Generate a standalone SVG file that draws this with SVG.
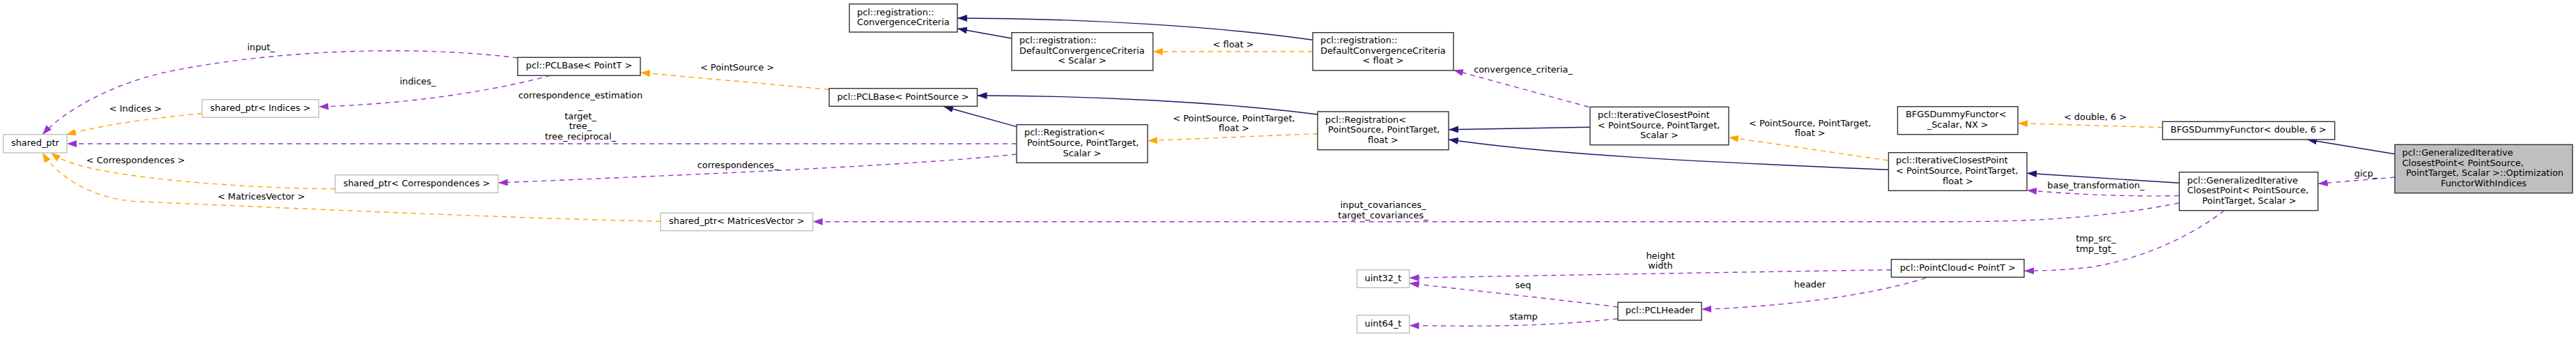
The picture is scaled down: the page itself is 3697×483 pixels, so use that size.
<svg xmlns="http://www.w3.org/2000/svg" width="3697" height="483" viewBox="0 0 3697 483">
<style>
text{font-family:"DejaVu Sans","Liberation Sans",sans-serif;font-size:12.9px;fill:#000}
.c{text-anchor:middle}
.n rect{fill:#fff;stroke:#333;stroke-width:1.4}
.g rect{fill:#fff;stroke:#bfbfbf;stroke-width:1.4}
.t rect{fill:#bfbfbf;stroke:#333;stroke-width:1.4}
.inh{fill:none;stroke:#191970;stroke-width:1.4;marker-end:url(#aN)}
.use{fill:none;stroke:#9a32cd;stroke-width:1.4;stroke-dasharray:7,6;marker-end:url(#aP)}
.tpl{fill:none;stroke:#ffa500;stroke-width:1.4;stroke-dasharray:7,6;marker-end:url(#aO)}
</style>
<defs>
<marker id="aN" markerUnits="userSpaceOnUse" viewBox="0 0 14 10" refX="14" refY="5" markerWidth="14" markerHeight="10" orient="auto"><path d="M0,0L14,5L0,10z" fill="#191970"/></marker>
<marker id="aP" markerUnits="userSpaceOnUse" viewBox="0 0 14 10" refX="14" refY="5" markerWidth="14" markerHeight="10" orient="auto"><path d="M0,0L14,5L0,10z" fill="#9a32cd"/></marker>
<marker id="aO" markerUnits="userSpaceOnUse" viewBox="0 0 14 10" refX="14" refY="5" markerWidth="14" markerHeight="10" orient="auto"><path d="M0,0L14,5L0,10z" fill="#ffa500"/></marker>
</defs>
<rect width="3697" height="483" fill="#fff"/>
<g id="connectors">
<path class="inh" d="M3437,220.7L3311,200"/>
<path class="use" d="M3437,254L3326.7,263.3"/><text class="c" x="3395.6" y="253">gicp_</text>
<path class="inh" d="M3127.6,262.3L2909,248.3"/>
<path class="use" d="M3127,280.5C3060,282 2980,279 2909,272.7"/><text class="c" x="3008" y="269.7">base_transformation_</text>
<path class="use" d="M3127,291C3040,308 2950,317.7 2800,317.7L1166.6,317.7"/><text class="c" x="1985" y="298">input_covariances_</text><text class="c" x="1985" y="313">target_covariances_</text>
<path class="use" d="M3192,301.7C3150,335 3080,370 3000,383C2960,387 2940,388 2905,388.3"/><text class="c" x="3008" y="345.7">tmp_src_</text><text class="c" x="3008" y="361.3">tmp_tgt_</text>
<path class="tpl" d="M3103.6,182.7L2896,176.7"/><text class="c" x="3007" y="172.3">&lt; double, 6 &gt;</text>
<path class="tpl" d="M2710,230L2481,196.7"/><text class="c" x="2597.7" y="180.7">&lt; PointSource, PointTarget,</text><text class="c" x="2597.7" y="195.3">float &gt;</text>
<path class="inh" d="M2710.4,243.3C2450,232 2250,224 2079,200"/>
<path class="inh" d="M2282,182.3L2079,185.7"/>
<path class="use" d="M2280,153.3L2086,100.5"/><text class="c" x="2186" y="103.7">convergence_criteria_</text>
<path class="tpl" d="M1891,191.7C1850,193 1720,199 1647,201.7"/><text class="c" x="1771" y="173.7">&lt; PointSource, PointTarget,</text><text class="c" x="1771" y="188">float &gt;</text>
<path class="inh" d="M1891,164C1750,146 1560,137 1402.5,137"/>
<path class="inh" d="M1459,181.7L1354,152.5"/>
<path class="inh" d="M1884,57.3C1750,38 1550,26 1374,26"/>
<path class="inh" d="M1452,55L1374,41"/>
<path class="tpl" d="M1884,74L1654.7,74"/><text class="c" x="1770" y="68.3">&lt; float &gt;</text>
<path class="tpl" d="M1190,128.3L919,104"/><text class="c" x="1058" y="101.3">&lt; PointSource &gt;</text>
<path class="use" d="M1459,206L96,206"/><text class="c" x="833" y="141.3">correspondence_estimation</text><text class="c" x="833" y="156">_</text><text class="c" x="833" y="170.7">target_</text><text class="c" x="833" y="185.3">tree_</text><text class="c" x="833" y="200">tree_reciprocal_</text>
<path class="use" d="M1459,221C1300,238 1000,250 714.7,262"/><text class="c" x="1059" y="240.7">correspondences_</text>
<path class="use" d="M743,83C600,65 400,70 240,103C160,120 90,160 61,193"/><text class="c" x="374.5" y="72">input_</text>
<path class="use" d="M790,108C740,122 620,148 457.5,153"/><text class="c" x="599.5" y="121">indices_</text>
<path class="tpl" d="M290,162.7C230,168 150,178 95,193"/><text class="c" x="194.5" y="160">&lt; Indices &gt;</text>
<path class="tpl" d="M481,270.7C380,270 260,262 180,250C130,242 95,235 73,219"/><text class="c" x="194.7" y="233.7">&lt; Correspondences &gt;</text>
<path class="tpl" d="M948,317.3C700,312 350,295 200,289C130,286 80,250 61,219"/><text class="c" x="375" y="285.7">&lt; MatricesVector &gt;</text>
<path class="use" d="M2714.4,386.7C2500,390 2200,395 2022.6,398.3"/><text class="c" x="2383" y="371.3">height</text><text class="c" x="2383" y="385.3">width</text>
<path class="use" d="M2322,440C2200,425 2100,415 2022.6,406"/><text class="c" x="2186" y="413">seq</text>
<path class="use" d="M2322,456.7C2200,470 2100,467 2022.6,466.7"/><text class="c" x="2186.5" y="458">stamp</text>
<path class="use" d="M2764,398.3C2680,425 2550,440 2442,443.3"/><text class="c" x="2597.5" y="412.3">header</text>
</g>
<g id="n_target" class="t"><rect x="3437" y="207.3" width="255" height="69.4"/><text x="3447.6" y="223.1">pcl::GeneralizedIterative</text><text x="3447.6" y="237.7">ClosestPoint&lt; PointSource,</text><text class="c" x="3566" y="252.3">PointTarget, Scalar &gt;::Optimization</text><text class="c" x="3564.5" y="266.9">FunctorWithIndices</text></g>
<g id="n_gicp" class="n"><rect x="3127.6" y="246.7" width="199.1" height="55"/><text x="3139" y="262.6">pcl::GeneralizedIterative</text><text x="3139" y="277.2">ClosestPoint&lt; PointSource,</text><text class="c" x="3228" y="291.8">PointTarget, Scalar &gt;</text></g>
<g id="n_bfgs_d" class="n"><rect x="3103.6" y="174.3" width="247.1" height="25.7"/><text class="c" x="3227" y="190.2">BFGSDummyFunctor&lt; double, 6 &gt;</text></g>
<g id="n_icp_f" class="n"><rect x="2710.4" y="218.7" width="198.6" height="54.6"/><text x="2721" y="234.4">pcl::IterativeClosestPoint</text><text x="2721" y="249">&lt; PointSource, PointTarget,</text><text class="c" x="2810" y="263.6">float &gt;</text></g>
<g id="n_bfgs_s" class="n"><rect x="2723.4" y="152.7" width="172.6" height="40"/><text x="2735" y="168.4">BFGSDummyFunctor&lt;</text><text class="c" x="2809.7" y="183">_Scalar, NX &gt;</text></g>
<g id="n_icp_s" class="n"><rect x="2282" y="153.3" width="199" height="54.4"/><text x="2293" y="168.9">pcl::IterativeClosestPoint</text><text x="2293" y="183.5">&lt; PointSource, PointTarget,</text><text class="c" x="2381.5" y="198.1">Scalar &gt;</text></g>
<g id="n_pcloud" class="n"><rect x="2714.4" y="371.7" width="190.6" height="25.6"/><text class="c" x="2809.7" y="387.5">pcl::PointCloud&lt; PointT &gt;</text></g>
<g id="n_pclheader" class="n"><rect x="2322" y="433.3" width="120" height="25.7"/><text class="c" x="2382" y="449.2">pcl::PCLHeader</text></g>
<g id="n_uint32" class="g"><rect x="1947.5" y="386.7" width="75.1" height="25.6"/><text class="c" x="1985" y="402.5">uint32_t</text></g>
<g id="n_uint64" class="g"><rect x="1947.5" y="451.7" width="75.1" height="25.6"/><text class="c" x="1985" y="467.5">uint64_t</text></g>
<g id="n_dcc_f" class="n"><rect x="1884" y="46.7" width="202" height="54.3"/><text x="1895" y="62.25">pcl::registration::</text><text x="1895" y="76.85">DefaultConvergenceCriteria</text><text class="c" x="1985" y="91.45">&lt; float &gt;</text></g>
<g id="n_reg_f" class="n"><rect x="1891" y="160" width="188" height="54.7"/><text x="1902" y="175.75">pcl::Registration&lt;</text><text x="1906" y="190.35">PointSource, PointTarget,</text><text class="c" x="1985" y="204.95">float &gt;</text></g>
<g id="n_dcc_s" class="n"><rect x="1452" y="46.7" width="202.7" height="54.3"/><text x="1463" y="62.25">pcl::registration::</text><text x="1463" y="76.85">DefaultConvergenceCriteria</text><text class="c" x="1553" y="91.45">&lt; Scalar &gt;</text></g>
<g id="n_reg_s" class="n"><rect x="1459" y="178.7" width="188" height="54.6"/><text x="1470" y="194.4">pcl::Registration&lt;</text><text x="1474" y="209">PointSource, PointTarget,</text><text class="c" x="1553" y="223.6">Scalar &gt;</text></g>
<g id="n_conv" class="n"><rect x="1219" y="5.7" width="155" height="40.3"/><text x="1230" y="21.55">pcl::registration::</text><text x="1230" y="36.15">ConvergenceCriteria</text></g>
<g id="n_pclbase_src" class="n"><rect x="1190" y="126.7" width="212.5" height="25.6"/><text class="c" x="1296" y="142.5">pcl::PCLBase&lt; PointSource &gt;</text></g>
<g id="n_pclbase_t" class="n"><rect x="743" y="82.3" width="176" height="26"/><text class="c" x="831" y="98.3">pcl::PCLBase&lt; PointT &gt;</text></g>
<g id="n_sp_mv" class="g"><rect x="948" y="305.3" width="218.6" height="25.4"/><text class="c" x="1057.3" y="321">shared_ptr&lt; MatricesVector &gt;</text></g>
<g id="n_sp_corr" class="g"><rect x="481" y="250.7" width="234" height="25.6"/><text class="c" x="598" y="266.5">shared_ptr&lt; Correspondences &gt;</text></g>
<g id="n_sp_ind" class="g"><rect x="290" y="142.7" width="167.5" height="25.6"/><text class="c" x="373.7" y="158.5">shared_ptr&lt; Indices &gt;</text></g>
<g id="n_sp" class="g"><rect x="4.7" y="192.7" width="91.3" height="26.3"/><text class="c" x="50.4" y="208.8">shared_ptr</text></g>
</svg>
